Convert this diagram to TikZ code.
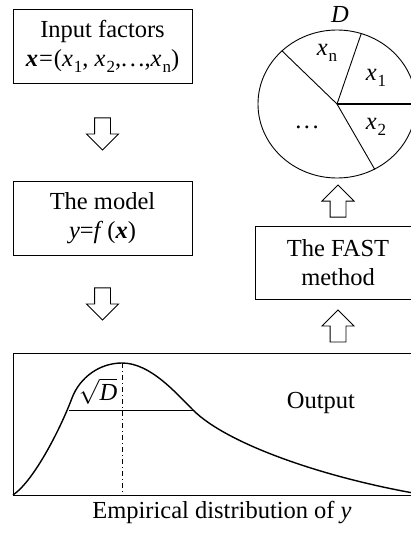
\documentclass[tikz,border=0pt]{standalone}
\usepackage{fontspec}
\setmainfont{Liberation Serif}
\usetikzlibrary{shapes.geometric,shapes.arrows,calc}
\newcommand{\ix}[1]{\textit{x}\kern1pt\raisebox{-0.25em}{\fontsize{17}{17}\selectfont #1}}
\newcommand{\bx}{\textbf{\textit{x}}}
\newcommand{\wdots}{.\kern2.5pt.\kern2.5pt.}

\begin{document}
\begin{tikzpicture}[
  x=1pt, y=-1pt,
  every node/.style={font=\fontsize{24.5}{29}\selectfont},
  box/.style={draw, line width=0.9pt, align=center, minimum width=179pt, minimum height=74pt, inner sep=0pt},
  blockarrow/.style={single arrow, draw, fill=white, line width=0.9pt, inner sep=7.5pt,
    minimum height=32pt, single arrow head extend=8pt, single arrow head indent=0pt},
  curve/.style={line width=1.4pt}
]
  \useasboundingbox (0,0) rectangle (411,533);
  \clip (0,0) rectangle (411,533);

  % left column
  \node[box] (input) at (102.5,46) {Input factors\\\bx\kern1pt=\kern1pt(\ix{1}, \ix{2},\wdots,\ix{n})};
  \node[box] (model) at (102.5,218) {The model\\\textit{y}=\textit{f}\,(\bx)};
  \node[blockarrow, shape border rotate=270, anchor=tail] (down1) at ($(input.south)+(0,34)$) {};
  \node[blockarrow, shape border rotate=270, anchor=tail] (down2) at ($(model.south)+(0,32)$) {};

  % output distribution
  \node[draw, line width=0.9pt, minimum width=418pt, minimum height=142pt, inner sep=0pt] (dist) at (222,424) {};
  \node (output) at (321,403) {Output};
  \node (caption) at (222,513) {Empirical distribution of \textit{y}};
  \coordinate (start) at (13,495);
  \coordinate (rise) at (72,398);
  \coordinate (peak) at (122,363);
  \coordinate (bend) at (193,410);
  \coordinate (tail) at (431,496);
  \coordinate (foot) at (122,495);
  \coordinate (halfl) at (69,410);
  \draw[curve] (start) .. controls (35,480) and (62,425) .. (rise)
    .. controls (80,377) and (100,363) .. (peak)
    .. controls (150,363) and (175,392) .. (bend)
    .. controls (228,445) and (330,480) .. (tail);
  \draw[line width=0.8pt, dash pattern=on 5pt off 3pt on 1pt off 3pt] (peak) -- (foot);
  \draw[line width=0.8pt] (halfl) -- (bend);
  \node (sqrtD) at (98,391) {$\sqrt{\hbox{\textit{D}}}$};

  % right column
  \node[box, minimum width=166pt, minimum height=73pt] (fast) at (338,262.5) {The FAST\\method};
  \node[blockarrow, shape border rotate=90, anchor=tail] (up1) at ($(fast.north)+(0,-8)$) {};
  \node[blockarrow, shape border rotate=90, anchor=tail] (up2) at ($(fast.south)+(0,43)$) {};

  % variance decomposition
  \node[ellipse, draw, line width=0.9pt, minimum width=158pt, minimum height=148pt, inner sep=0pt] (pie) at (337,104) {};
  \node (D) at (340,15) {\textit{D}};
  \draw[line width=0.9pt] (pie.center) -- (pie.71);
  \draw[line width=0.9pt] (pie.center) -- (pie.136);
  \draw[line width=0.9pt] (pie.center) -- (pie.-60);
  \draw[line width=2pt] (pie.center) -- (pie.east);
  \node (xn) at (327,53) {\ix{n}};
  \node (x1) at (376,78) {\ix{1}};
  \node (x2) at (376,127) {\ix{2}};
  \node (dots) at (307,127) {\wdots};
\end{tikzpicture}
\end{document}
